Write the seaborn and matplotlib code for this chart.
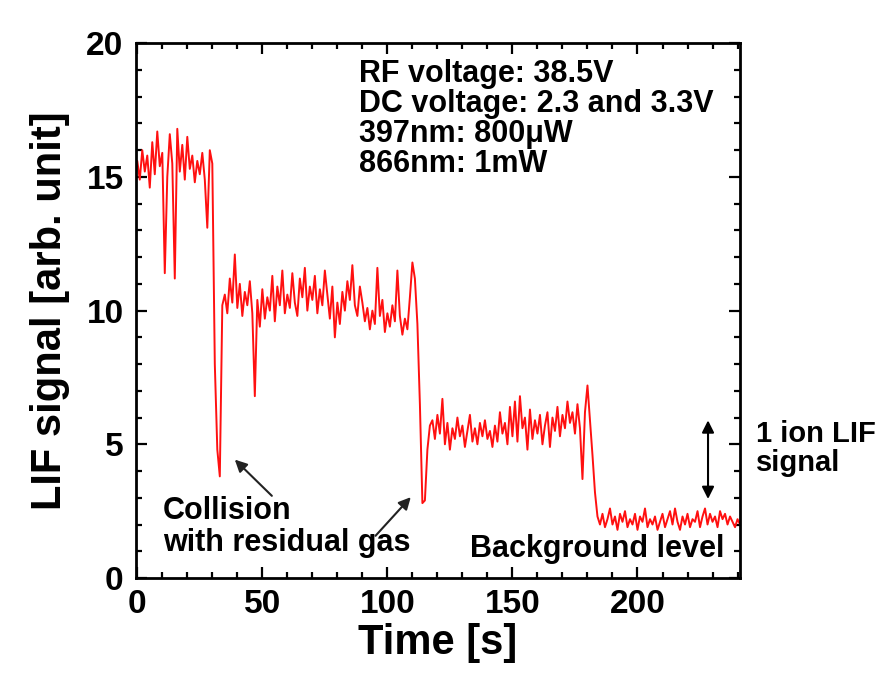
import matplotlib
matplotlib.use("Agg")
import matplotlib.pyplot as plt
import numpy as np
import pandas as pd
import seaborn as sns
from matplotlib.ticker import MultipleLocator

# LIF signal, one value per second (t = 0 ... 241 s)
level_four_ions = [15.6, 14.9, 16.0, 15.2, 15.8, 14.6, 16.3, 15.1, 16.7, 15.4,
                   15.9, 11.4, 15.0, 16.6, 15.5, 11.2, 16.8, 15.2, 16.2, 14.9,
                   16.5, 15.3, 15.8, 14.8, 15.6, 15.1, 15.9, 14.9, 13.1, 16.0,
                   15.5, 8.0, 4.8, 3.8, 10.2]
level_three_ions = [10.6, 9.9, 11.2, 10.3, 12.1, 10.1, 11.0, 9.8, 10.7, 10.2,
                    11.1, 9.9, 6.8, 10.4, 9.4, 10.8, 9.7, 10.5, 10.0, 11.3,
                    9.6, 10.9, 10.2, 11.5, 9.9, 10.6, 10.1, 11.4, 10.3, 9.8,
                    11.2, 10.5, 11.6, 10.0, 10.9, 10.4, 11.3, 9.9, 10.8, 10.2,
                    11.5, 10.6, 9.7, 10.9, 9.0, 10.3, 9.5, 10.7, 10.0, 11.1,
                    10.4, 11.7, 10.2, 9.8, 10.9, 10.3, 9.6, 10.1, 9.3, 10.0,
                    9.5, 11.6, 9.8, 10.4, 9.2, 9.9, 9.4, 10.2, 9.6, 11.5,
                    9.8, 9.1, 9.7, 9.3, 10.5, 11.8, 11.2, 9.5, 6.5, 2.8,
                    2.9, 4.8, 5.7]
level_one_ion = [5.9, 5.2, 6.1, 5.4, 6.7, 5.0, 5.8, 4.8, 5.6, 5.2,
                 6.0, 5.3, 5.7, 4.9, 5.5, 6.1, 5.1, 5.6, 5.0, 5.8,
                 5.3, 5.9, 5.2, 5.5, 4.9, 5.7, 5.1, 6.2, 5.4, 5.8,
                 5.0, 6.4, 5.3, 6.6, 5.1, 6.8, 5.6, 6.0, 4.8, 6.3,
                 5.2, 5.9, 5.4, 6.1, 5.0, 5.7, 6.2, 4.9, 6.0, 5.5,
                 6.4, 5.3, 6.1, 5.6, 6.6, 5.8, 6.2, 5.4, 6.5, 5.6,
                 3.7, 6.2, 7.2, 5.9, 4.6, 3.2, 2.3]
background = [2.0, 2.4, 1.9, 2.2, 2.6, 2.0, 2.3, 1.8, 2.4, 2.1,
              2.5, 1.9, 2.2, 2.0, 2.4, 1.8, 2.3, 2.1, 2.6, 1.9,
              2.2, 2.0, 2.3, 1.8, 2.1, 2.4, 1.9, 2.2, 2.5, 2.0,
              2.6, 2.1, 1.8, 2.3, 2.0, 2.4, 1.9, 2.2, 2.1, 2.5,
              1.9, 2.3, 2.6, 2.0, 2.4, 2.1, 2.3, 1.9, 2.5, 2.2,
              2.4, 2.0, 2.3, 2.1, 1.9, 2.2, 2.0]

signal = level_four_ions + level_three_ions + level_one_ion + background
time_s = np.arange(len(signal))

conditions = "RF voltage: 38.5V\nDC voltage: 2.3 and 3.3V\n397nm: 800\u03bcW\n866nm: 1mW"

sns.set_style("ticks")
plt.rcParams["font.family"] = ["Liberation Sans", "DejaVu Sans"]
plt.rcParams["font.weight"] = "bold"
plt.rcParams["axes.labelweight"] = "bold"
plt.rcParams["text.color"] = "black"
plt.rcParams["axes.labelcolor"] = "black"

fig = plt.figure(figsize=(8.85, 6.76), dpi=100)
ax = fig.add_axes([0.1537, 0.145, 0.6825, 0.791])

df = pd.DataFrame({"t": time_s, "lif": signal})
sns.lineplot(data=df, x="t", y="lif", ax=ax, color="#ff1010", linewidth=1.4, estimator=None)

ax.set_xlim(-0.5, 241)
ax.set_ylim(0, 20)
ax.xaxis.set_major_locator(MultipleLocator(50))
ax.xaxis.set_minor_locator(MultipleLocator(10))
ax.yaxis.set_major_locator(MultipleLocator(5))
ax.yaxis.set_minor_locator(MultipleLocator(1))
ax.tick_params(which="both", direction="in", top=True, right=True, width=1.6,
               colors="black", labelcolor="black")
ax.tick_params(which="major", length=8)
ax.tick_params(which="minor", length=4.5)
ax.tick_params(axis="x", which="major", labelsize=24, pad=8)
ax.tick_params(axis="y", which="major", labelsize=24, pad=9)
for spine in ax.spines.values():
    spine.set_linewidth(2)
    spine.set_color("black")
    spine.set_visible(True)

ax.set_xlabel("Time [s]", fontsize=30, labelpad=2)
ax.set_ylabel("LIF signal [arb. unit]", fontsize=30, labelpad=12)

ax.text(88.5, 19.4, conditions, fontsize=22, va="top", ha="left", linespacing=1.0)
ax.text(10.3, 3.05, "Collision\nwith residual gas", fontsize=22, va="top", ha="left", linespacing=1.05)
ax.text(133.2, 0.78, "Background level", fontsize=22, va="baseline", ha="left")
ax.text(247.4, 5.9, "1 ion LIF\nsignal", fontsize=21, va="top", ha="left", linespacing=1.05, clip_on=False)

arrow = dict(arrowstyle="-|>", color="#222222", lw=1.5, mutation_scale=18)
ax.annotate("", xy=(38.2, 4.5), xytext=(54.6, 3.0), arrowprops=arrow)
ax.annotate("", xy=(110.1, 3.1), xytext=(94.5, 1.5), arrowprops=arrow)
ax.annotate("", xy=(228.2, 6.0), xytext=(228.2, 2.85),
            arrowprops=dict(arrowstyle="<|-|>", color="black", lw=1.5, mutation_scale=18))

fig.savefig("out.png", dpi=100)
